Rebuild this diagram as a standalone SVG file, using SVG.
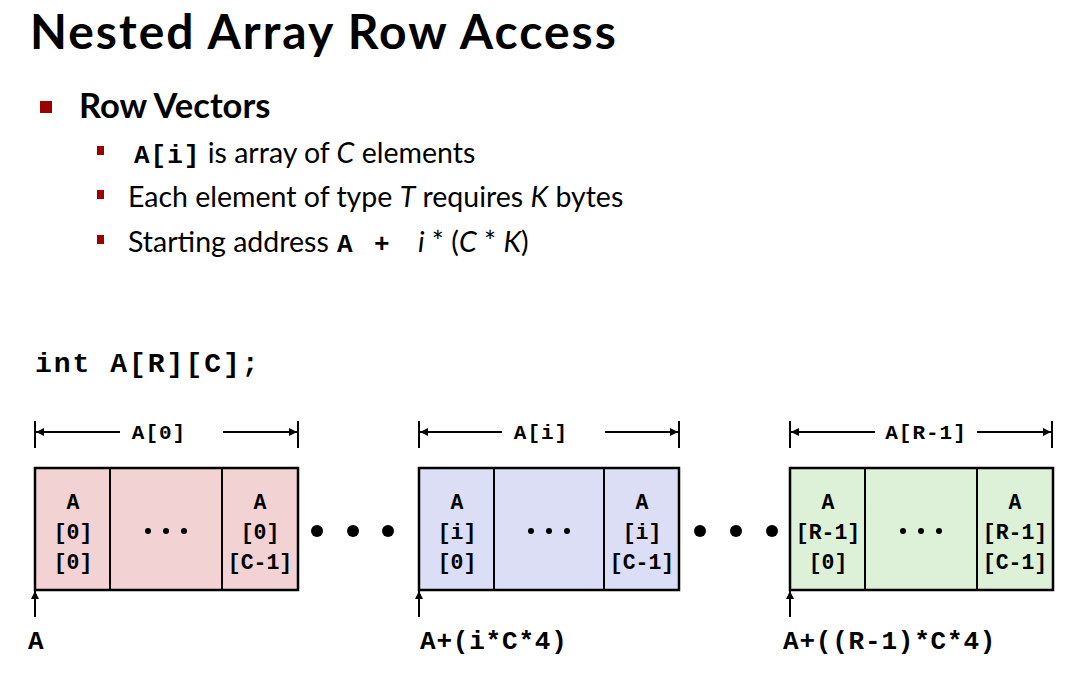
<svg xmlns="http://www.w3.org/2000/svg" width="1072" height="678" viewBox="0 0 1072 678">
<defs>
<style>
.title{font-family:Lato,"Liberation Sans",sans-serif;font-weight:bold;font-size:48px;letter-spacing:2px;fill:#000}
.h1{font-family:Lato,"Liberation Sans",sans-serif;font-weight:bold;font-size:34.5px;fill:#000}
.body{font-family:Lato,"Liberation Sans",sans-serif;font-size:28.5px;fill:#000}
.mono{font-family:"Liberation Mono","Courier New",monospace;font-weight:bold}
.code{font-size:28px;letter-spacing:2px}
.cell{font-size:21.5px;text-anchor:middle}
.lab{font-size:21px;letter-spacing:1px;text-anchor:middle}
.addr{font-size:26px;letter-spacing:0.8px}
.box{stroke:#000;stroke-width:2.5}
.div{stroke:#000;stroke-width:2;fill:none}
.ln{stroke:#000;stroke-width:2;fill:none}
.bul{fill:#9B0000}
</style>
<marker id="ah" viewBox="0 0 10 10" refX="10" refY="5" markerWidth="10" markerHeight="8" markerUnits="userSpaceOnUse" orient="auto">
<path d="M0,0 L10,5 L0,10 z" fill="#000"/>
</marker>
</defs>
<rect width="1072" height="678" fill="#fff"/>
<g id="header">
<text class="title" x="30" y="49">Nested Array Row Access</text>
<rect class="bul" x="40" y="101" width="12" height="12"/>
<text class="h1" x="79" y="118">Row Vectors</text>
<rect class="bul" x="97" y="146" width="7" height="9"/>
<text class="body" x="134" y="163"><tspan class="mono" font-size="26px" letter-spacing="1px">A[i]</tspan> is array of <tspan font-style="italic">C</tspan> elements</text>
<rect class="bul" x="97" y="190" width="7" height="9"/>
<text class="body" x="128" y="207">Each element of type <tspan font-style="italic">T</tspan> requires <tspan font-style="italic">K</tspan> bytes</text>
<rect class="bul" x="97" y="235" width="7" height="9"/>
<text class="body" x="128" y="252">Starting address<tspan class="mono" font-size="26px" x="337">A</tspan><tspan class="mono" font-size="26px" x="374">+</tspan><tspan font-style="italic" x="418">i</tspan> * (<tspan font-style="italic">C</tspan> * <tspan font-style="italic">K</tspan>)</text>
<text class="mono code" x="35" y="372">int A[R][C];</text>
</g>
<g id="row0">
<rect class="box" x="35" y="468" width="263" height="122" fill="#F2D2D2"/>
<line class="div" x1="110" y1="468" x2="110" y2="590"/>
<line class="div" x1="222" y1="468" x2="222" y2="590"/>
<text class="mono cell" x="73" y="509">A</text>
<text class="mono cell" x="73" y="539">[0]</text>
<text class="mono cell" x="73" y="569">[0]</text>
<circle cx="148" cy="531" r="3"/><circle cx="166" cy="531" r="3"/><circle cx="184" cy="531" r="3"/>
<text class="mono cell" x="260" y="509">A</text>
<text class="mono cell" x="260" y="539">[0]</text>
<text class="mono cell" x="260" y="569">[C-1]</text>
</g>
<g id="rowi">
<rect class="box" x="419" y="468" width="260" height="122" fill="#DCDEF6"/>
<line class="div" x1="494" y1="468" x2="494" y2="590"/>
<line class="div" x1="604" y1="468" x2="604" y2="590"/>
<text class="mono cell" x="457" y="509">A</text>
<text class="mono cell" x="457" y="539">[i]</text>
<text class="mono cell" x="457" y="569">[0]</text>
<circle cx="531" cy="531" r="3"/><circle cx="549" cy="531" r="3"/><circle cx="567" cy="531" r="3"/>
<text class="mono cell" x="642" y="509">A</text>
<text class="mono cell" x="642" y="539">[i]</text>
<text class="mono cell" x="642" y="569">[C-1]</text>
</g>
<g id="rowR1">
<rect class="box" x="790" y="468" width="263" height="122" fill="#DCF1D8"/>
<line class="div" x1="865" y1="468" x2="865" y2="590"/>
<line class="div" x1="977" y1="468" x2="977" y2="590"/>
<text class="mono cell" x="828" y="509">A</text>
<text class="mono cell" x="828" y="539">[R-1]</text>
<text class="mono cell" x="828" y="569">[0]</text>
<circle cx="903" cy="531" r="3"/><circle cx="921" cy="531" r="3"/><circle cx="939" cy="531" r="3"/>
<text class="mono cell" x="1015" y="509">A</text>
<text class="mono cell" x="1015" y="539">[R-1]</text>
<text class="mono cell" x="1015" y="569">[C-1]</text>
</g>
<g id="gap-dots">
<circle cx="317" cy="531" r="6"/><circle cx="353" cy="531" r="6"/><circle cx="388" cy="531" r="6"/>
<circle cx="700" cy="531" r="6"/><circle cx="736" cy="531" r="6"/><circle cx="772" cy="531" r="6"/>
</g>
<g id="connectors">
<line class="ln" x1="35" y1="421" x2="35" y2="448"/>
<line class="ln" x1="298" y1="421" x2="298" y2="448"/>
<line class="ln" x1="120" y1="432" x2="36" y2="432" marker-end="url(#ah)"/>
<line class="ln" x1="223" y1="432" x2="297" y2="432" marker-end="url(#ah)"/>
<text class="mono lab" x="159" y="439">A[0]</text>
<line class="ln" x1="419" y1="421" x2="419" y2="448"/>
<line class="ln" x1="679" y1="421" x2="679" y2="448"/>
<line class="ln" x1="502" y1="432" x2="420" y2="432" marker-end="url(#ah)"/>
<line class="ln" x1="605" y1="432" x2="678" y2="432" marker-end="url(#ah)"/>
<text class="mono lab" x="541" y="439">A[i]</text>
<line class="ln" x1="790" y1="421" x2="790" y2="448"/>
<line class="ln" x1="1052" y1="421" x2="1052" y2="448"/>
<line class="ln" x1="875" y1="432" x2="791" y2="432" marker-end="url(#ah)"/>
<line class="ln" x1="977" y1="432" x2="1051" y2="432" marker-end="url(#ah)"/>
<text class="mono lab" x="926" y="439">A[R-1]</text>
<line class="ln" x1="35" y1="617" x2="35" y2="591" marker-end="url(#ah)"/>
<line class="ln" x1="419" y1="617" x2="419" y2="591" marker-end="url(#ah)"/>
<line class="ln" x1="790" y1="617" x2="790" y2="591" marker-end="url(#ah)"/>
</g>
<g id="addresses">
<text class="mono addr" x="28" y="649">A</text>
<text class="mono addr" x="420" y="649">A+(i*C*4)</text>
<text class="mono addr" x="783" y="649">A+((R-1)*C*4)</text>
</g>
</svg>
